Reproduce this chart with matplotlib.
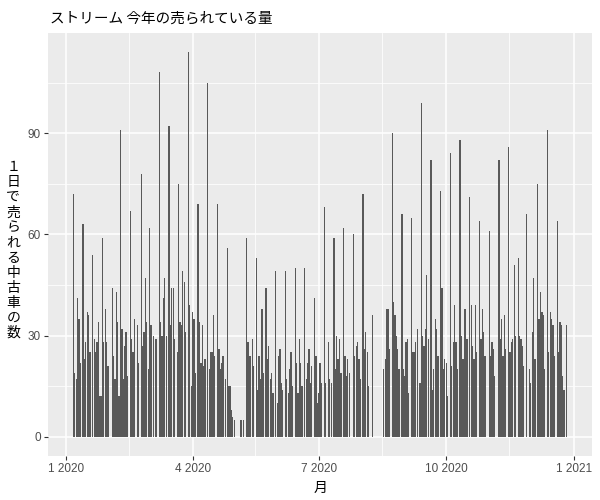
import matplotlib
matplotlib.use("Agg")
import matplotlib.pyplot as plt
import matplotlib.dates as mdates
import pandas as pd
import numpy as np

plt.rcParams['font.family'] = ['Noto Sans CJK JP', 'DejaVu Sans']

title = "ストリーム 今年の売られている量"
xlabel = "月"
ylabel = "１日で売られる中古車の数"

# day offset from 2020-01-01 and number of cars sold that day
days = [5, 6, 7, 8, 9, 10, 12, 13, 14, 15, 16, 17, 19, 20, 21, 22, 23, 24, 25, 26, 27, 28, 29, 30,
        33, 34, 35, 36, 37, 38, 39, 40, 41, 42, 43, 44, 46, 47, 48, 49, 51, 52, 54, 55, 56, 57, 58, 59,
        60, 61, 63, 64, 65, 67, 68, 69, 70, 71, 72, 74, 75, 76, 77, 78, 80, 81, 82, 83, 84, 85, 86,
        88, 89, 90, 91, 92, 93, 95, 96, 97, 98, 99, 100, 102, 103, 104, 105, 106, 107, 109, 110, 111,
        112, 113, 115, 116, 117, 118, 119, 120, 121, 126, 128, 130, 131, 132, 133, 134, 135, 137, 138,
        139, 140, 141, 142, 144, 145, 146, 147, 148, 149, 151, 152, 153, 154, 155, 156, 158, 159, 160,
        161, 162, 163, 165, 166, 167, 168, 169, 170, 172, 173, 174, 175, 176, 177, 179, 180, 181, 182,
        183, 184, 186, 187, 189, 190, 191, 193, 194, 195, 196, 197, 198, 200, 201, 202, 203, 204, 207,
        208, 209, 210, 211, 212, 214, 215, 216, 217, 218, 221, 229, 230, 231, 232, 233, 235, 236, 237,
        238, 239, 240, 242, 243, 244, 245, 246, 247, 249, 250, 251, 252, 253, 255, 256, 257, 258, 259,
        260, 261, 263, 264, 265, 266, 267, 268, 270, 271, 272, 273, 274, 275, 277, 278, 279, 280, 281,
        282, 284, 285, 286, 287, 288, 289, 291, 292, 293, 294, 295, 296, 298, 299, 300, 301, 302, 305,
        306, 307, 308, 309, 312, 313, 314, 315, 316, 317, 319, 320, 321, 322, 323, 324, 326, 327, 328,
        329, 330, 332, 334, 335, 336, 337, 338, 340, 341, 342, 343, 344, 345, 347, 348, 349, 350, 351,
        352, 354, 355, 356, 357, 358, 359, 361]
counts = [72, 19, 17, 41, 35, 22, 63, 23, 28, 37, 36, 25, 54, 29, 25, 28, 34, 12, 12, 59, 28, 38, 28, 21,
          44, 24, 17, 43, 34, 12, 91, 32, 17, 27, 31, 18, 67, 29, 25, 35, 33, 22, 78, 27, 31, 47, 34, 20,
          62, 33, 30, 29, 29, 108, 34, 30, 41, 47, 30, 92, 33, 44, 44, 29, 25, 75, 34, 33, 49, 46, 31,
          114, 39, 15, 37, 35, 19, 69, 34, 22, 33, 21, 23, 105, 20, 25, 25, 36, 24, 69, 26, 20,
          22, 24, 17, 56, 15, 15, 8, 6, 5, 5, 5, 59, 28, 24, 24, 29, 21, 53, 14,
          24, 17, 38, 19, 44, 23, 27, 17, 19, 13, 49, 10, 24, 26, 16, 14, 49, 17, 13,
          20, 25, 15, 50, 22, 13, 29, 22, 15, 50, 17, 22, 26, 16, 21, 41, 24, 10, 13,
          22, 16, 68, 16, 28, 17, 16, 59, 20, 30, 23, 29, 19, 62, 24, 18, 23, 19, 60,
          24, 27, 28, 23, 17, 72, 26, 31, 25, 15, 36, 20, 23, 38, 38, 26, 90, 40, 36,
          30, 26, 20, 66, 20, 18, 28, 29, 13, 65, 25, 25, 28, 32, 16, 99, 30, 27, 32,
          48, 29, 82, 14, 20, 35, 32, 24, 73, 44, 20, 23, 22, 12, 84, 21, 28, 39, 28,
          20, 88, 30, 23, 38, 38, 29, 71, 39, 27, 23, 39, 25, 64, 29, 38, 31, 24, 61,
          24, 28, 26, 18, 82, 29, 35, 24, 36, 26, 86, 25, 28, 29, 51, 30, 53, 30, 29,
          27, 21, 66, 20, 16, 31, 47, 23, 75, 35, 43, 37, 36, 20, 91, 25, 37, 35, 33,
          24, 64, 25, 34, 33, 18, 14, 33]

start = pd.Timestamp("2020-01-01")
dates = [start + pd.Timedelta(days=d) for d in days]
xnum = mdates.date2num(dates)

fig = plt.figure(figsize=(6, 5), dpi=100)
ax = fig.add_axes([0.080, 0.088, 0.907, 0.846])
ax.set_facecolor("#EBEBEB")
ax.bar(xnum, counts, width=0.9, color="#595959", zorder=3)

# ggplot-like limits with 5% expansion
lo, hi = xnum.min() - 0.45, xnum.max() + 0.45
pad = (hi - lo) * 0.05
ax.set_xlim(lo - pad, hi + pad)
ymax = max(counts)
ax.set_ylim(-0.05 * ymax, ymax * 1.05)

major_dates = [pd.Timestamp(s) for s in ["2020-01-01", "2020-04-01", "2020-07-01", "2020-10-01", "2021-01-01"]]
ax.set_xticks(mdates.date2num(major_dates))
ax.set_xticklabels([f"{d.month} {d.year}" for d in major_dates])
minor_dates = [pd.Timestamp(s) for s in ["2020-02-15", "2020-05-16", "2020-08-16", "2020-11-15"]]
ax.set_xticks(mdates.date2num(minor_dates), minor=True)
ax.set_yticks([0, 30, 60, 90])
ax.set_yticks([15, 45, 75, 105], minor=True)

ax.grid(which="major", color="white", linewidth=1.1, zorder=0)
ax.grid(which="minor", color="white", linewidth=0.55, zorder=0)
for s in ax.spines.values():
    s.set_visible(False)
ax.tick_params(which="major", length=3, color="#333333", labelsize=8.5, labelcolor="#4D4D4D", pad=2)
ax.tick_params(which="minor", length=0)
for lab in ax.get_xticklabels() + ax.get_yticklabels():
    lab.set_fontfamily(['Liberation Sans', 'DejaVu Sans'])

fig.text(0.083, 0.962, title, fontsize=10.5, color="black", va="center", ha="left")
fig.text((0.080 + 0.987) / 2, 0.024, xlabel, fontsize=10, ha="center", va="center")
fig.text(0.022, 0.50, "\n".join(ylabel), fontsize=10, ha="center", va="center", linespacing=1.1)

fig.savefig("out.png", dpi=100)
